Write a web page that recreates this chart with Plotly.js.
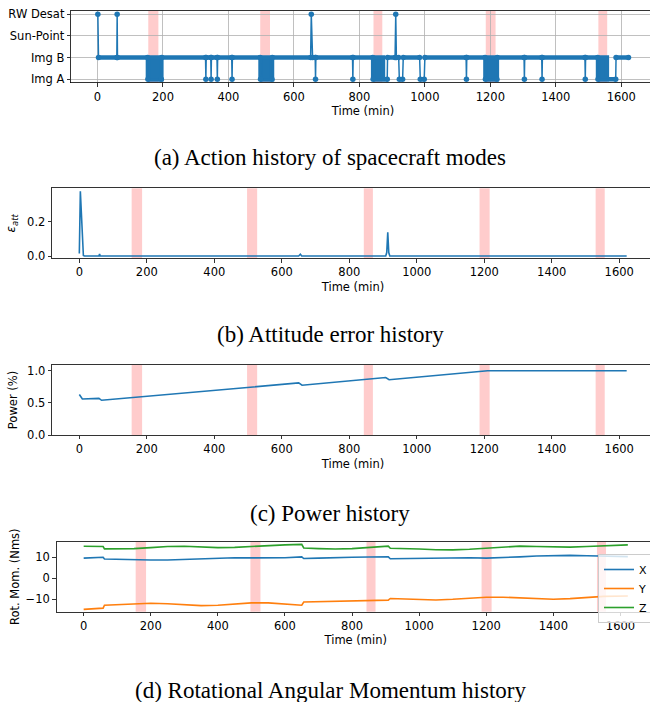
<!DOCTYPE html>
<html>
<head>
<meta charset="utf-8">
<script src="https://cdn.plot.ly/plotly-3.0.1.min.js"></script>
<style>
html,body{margin:0;padding:0;overflow:hidden;background:#fff;}
#chart{width:660px;height:702px;}
</style>
</head>
<body>
<div id="chart"></div>
<script>
// ---------- DATA ----------
const modeNames = ['Img A', 'Img B', 'Sun-Point', 'RW Desat'];
// path of spacecraft mode (index into modeNames) vs time (min)
const modeTime = [1, 3, 59, 60, 61, 153, 154, 195, 196, 330, 331, 332, 346, 347, 348, 365, 366, 367, 410, 411, 412,
  497, 498, 533, 534, 651, 653, 657, 665, 666, 667, 779, 780, 781, 841, 842, 885, 886, 909, 911, 913, 920, 922, 932, 934,
  984, 986, 998, 1000, 1126, 1127, 1128, 1184, 1185, 1220, 1221, 1303, 1304, 1305, 1357, 1358, 1359, 1489, 1490, 1491,
  1528, 1529, 1583, 1584, 1622];
const modeVal = [3, 1, 1, 3, 1, 1, 0, 0, 1, 1, 0, 1, 1, 0, 1, 1, 0, 1, 1, 0, 1,
  1, 0, 0, 1, 1, 3, 1, 1, 0, 1, 1, 0, 1, 1, 0, 0, 1, 1, 3, 1, 1, 0, 0, 1,
  1, 0, 0, 1, 1, 0, 1, 1, 0, 0, 1, 1, 0, 1, 1, 0, 1, 1, 0, 1,
  1, 0, 0, 1, 1];
// intervals of rapid Img A / Img B switching
const switchBlocks = [[154, 195], [498, 533], [842, 872], [1185, 1220], [1529, 1556]];
// eclipse / highlighted windows
const bands = [[155, 186], [497, 527], [843, 870], [1186, 1216], [1530, 1557]];

// attitude error
const attT = [0, 3, 12, 15, 58, 60, 62, 650, 655, 659, 908, 911, 914, 917, 920, 1622];
const attV = [0.015, 0.377, 0.003, 0.0, 0.0, 0.012, 0.0, 0.0, 0.01, 0.0, 0.0, 0.02, 0.138, 0.02, 0.0, 0.0];

// power
const powT = [0, 4, 9, 58, 62, 66, 650, 655, 660, 908, 913, 918, 1210, 1622];
const powV = [0.63, 0.59, 0.56, 0.57, 0.555, 0.54, 0.81, 0.795, 0.775, 0.895, 0.87, 0.86, 1.0, 1.0];

// rotational angular momentum
const momT = [0, 58, 62, 100, 150, 200, 250, 300, 350, 400, 450, 500, 550, 600, 650, 656, 700, 750, 800, 850, 908, 914,
  950, 1000, 1050, 1100, 1150, 1200, 1250, 1300, 1350, 1400, 1450, 1500, 1550, 1622];
const momX = [9.6, 10.0, 9.2, 9.0, 8.8, 8.7, 8.7, 9.0, 9.4, 9.7, 9.8, 9.7, 9.6, 9.8, 10.2, 9.4, 9.6, 9.9, 10.0, 10.1, 10.2, 9.3,
  9.4, 9.6, 9.8, 9.9, 9.8, 9.6, 9.8, 10.2, 10.6, 10.9, 10.9, 10.7, 10.5, 10.3];
const momY = [-14.8, -14.2, -12.8, -12.6, -12.2, -11.9, -12.1, -12.7, -13.0, -12.8, -12.2, -11.7, -11.7, -12.2, -12.8, -11.3, -11.1, -10.9, -10.8, -10.6, -10.4, -9.6,
  -9.8, -10.2, -10.3, -10.0, -9.4, -9.0, -9.0, -9.4, -9.8, -10.0, -9.7, -9.1, -8.6, -8.4];
const momZ = [15.2, 15.1, 14.0, 13.9, 14.1, 14.6, 15.1, 15.2, 14.9, 14.6, 14.7, 15.2, 15.6, 15.9, 16.1, 14.4, 14.1, 13.9, 14.1, 14.6, 15.3, 14.3,
  14.0, 13.9, 13.6, 13.5, 13.8, 14.3, 14.9, 15.3, 15.1, 14.8, 14.8, 15.1, 15.4, 15.9];

const xTicks = [0, 200, 400, 600, 800, 1000, 1200, 1400, 1600];
const captions = ['(a) Action history of spacecraft modes', '(b) Attitude error history', '(c) Power history', '(d) Rotational Angular Momentum history'];

// ---------- LAYOUT HELPERS ----------
const W = 660, H = 702;
const dx = (l, r) => [l / W, r / W];
const dy = (top, bottom) => [1 - bottom / H, 1 - top / H];
const BLUE = '#1f77b4', ORANGE = '#ff7f0e', GREEN = '#2ca02c';
const tickFont = {family: 'DejaVu Sans', size: 11.5, color: '#000'};
const XR = [-81, 1703];

function xAxis(domain, anchor, grid, standoff) {
  return {
    domain: domain, anchor: anchor, range: XR, tickvals: xTicks, ticktext: xTicks.map(String),
    showgrid: grid, gridcolor: '#b0b0b0', gridwidth: 0.8, zeroline: false,
    showline: true, linecolor: '#000', linewidth: 0.8, mirror: true,
    ticks: 'outside', ticklen: 3.5, tickwidth: 0.8, tickcolor: '#000', tickfont: tickFont,
    title: {text: 'Time (min)', font: tickFont, standoff: standoff}
  };
}
function yAxis(domain, anchor, range, extra) {
  return Object.assign({
    domain: domain, anchor: anchor, range: range, zeroline: false,
    showline: true, linecolor: '#000', linewidth: 0.8, mirror: true,
    ticks: 'outside', ticklen: 3.5, tickwidth: 0.8, tickcolor: '#000', tickfont: tickFont,
    showgrid: false
  }, extra);
}

// ---------- TRACES ----------
const traces = [];
// panel (a): switching blocks
const bx = [], by = [];
switchBlocks.forEach(b => { bx.push(b[0], b[1], b[1], b[0], b[0], null); by.push(0, 0, 1, 1, 0, null); });
traces.push({x: bx, y: by, xaxis: 'x', yaxis: 'y', mode: 'lines', fill: 'toself', fillcolor: BLUE,
  line: {color: BLUE, width: 4.5}, showlegend: false, hoverinfo: 'skip'});
// thick dwell segments (dense markers)
const sx = [], sy = [];
for (let i = 1; i < modeTime.length; i++) {
  if (modeVal[i] === modeVal[i - 1]) { sx.push(modeTime[i - 1], modeTime[i], null); sy.push(modeVal[i], modeVal[i], null); }
}
traces.push({x: sx, y: sy, xaxis: 'x', yaxis: 'y', mode: 'lines', line: {color: BLUE, width: 4.5},
  showlegend: false, hoverinfo: 'skip'});
traces.push({x: modeTime, y: modeVal, xaxis: 'x', yaxis: 'y', mode: 'lines+markers',
  line: {color: BLUE, width: 1.5}, marker: {color: BLUE, size: 5.5}, showlegend: false});
// panel (b)
traces.push({x: attT, y: attV, xaxis: 'x2', yaxis: 'y2', mode: 'lines', line: {color: BLUE, width: 1.6}, showlegend: false});
// panel (c)
traces.push({x: powT, y: powV, xaxis: 'x3', yaxis: 'y3', mode: 'lines', line: {color: BLUE, width: 1.6}, showlegend: false});
// panel (d)
traces.push({x: momT, y: momX, xaxis: 'x4', yaxis: 'y4', mode: 'lines', name: 'X', line: {color: BLUE, width: 1.6}});
traces.push({x: momT, y: momY, xaxis: 'x4', yaxis: 'y4', mode: 'lines', name: 'Y', line: {color: ORANGE, width: 1.6}});
traces.push({x: momT, y: momZ, xaxis: 'x4', yaxis: 'y4', mode: 'lines', name: 'Z', line: {color: GREEN, width: 1.6}});

// ---------- SHAPES (highlight bands) ----------
const shapes = [];
['x', 'x2', 'x3', 'x4'].forEach((xa, k) => {
  const ya = ['y', 'y2', 'y3', 'y4'][k];
  bands.forEach(b => shapes.push({type: 'rect', xref: xa, yref: ya + ' domain', x0: b[0], x1: b[1], y0: 0, y1: 1,
    fillcolor: 'rgba(255,0,0,0.2)', line: {width: 0}, layer: 'below'}));
});

// ---------- CAPTIONS ----------
const capY = [157, 335, 513, 690];
const annotations = captions.map((c, i) => ({
  text: c, xref: 'paper', yref: 'paper', x: 330 / W, y: 1 - capY[i] / H, xanchor: 'center', yanchor: 'middle',
  showarrow: false, font: {family: 'Liberation Serif, Times New Roman, serif', size: 23, color: '#000'}
}));

const layout = {
  width: W, height: H, margin: {l: 0, r: 0, t: 0, b: 0},
  paper_bgcolor: '#fff', plot_bgcolor: '#fff',
  font: {family: 'DejaVu Sans', size: 11.5, color: '#000'},
  xaxis: xAxis(dx(71, 655), 'y', true, 2),
  yaxis: yAxis(dy(11, 82.5), 'x', [-0.15, 3.15], {tickvals: [0, 1, 2, 3], ticktext: modeNames,
    showgrid: true, gridcolor: '#b0b0b0', gridwidth: 0.8}),
  xaxis2: xAxis(dx(52, 654), 'y2', false, 4),
  yaxis2: yAxis(dy(188.3, 258.3), 'x2', [-0.0134, 0.394], {tickvals: [0, 0.2], ticktext: ['0.0', '0.2'],
    title: {text: '<i>ε</i><sub><i>att</i></sub>', font: {family: 'DejaVu Sans', size: 12, color: '#000'}, standoff: 8}}),
  xaxis3: xAxis(dx(52, 654), 'y3', false, 4),
  yaxis3: yAxis(dy(365, 435), 'x3', [0, 1.089], {tickvals: [0, 0.5, 1.0], ticktext: ['0.0', '0.5', '1.0'],
    title: {text: 'Power (%)', font: tickFont, standoff: 6}}),
  xaxis4: xAxis(dx(56.5, 655), 'y4', false, 2),
  yaxis4: yAxis(dy(541.7, 611.7), 'x4', [-15.9, 17.4], {tickvals: [-10, 0, 10], ticktext: ['\u221210', '0', '10'],
    title: {text: 'Rot. Mom. (Nms)', font: tickFont, standoff: 3}}),
  showlegend: true,
  legend: {x: 598 / W, y: 1 - 554 / H, xanchor: 'left', yanchor: 'top', bgcolor: 'rgba(255,255,255,0.8)',
    bordercolor: '#cccccc', borderwidth: 1, font: {family: 'DejaVu Sans', size: 11, color: '#000'}, tracegroupgap: 0},
  shapes: shapes, annotations: annotations
};

Plotly.newPlot('chart', traces, layout, {displayModeBar: false, staticPlot: true});
</script>
</body>
</html>
